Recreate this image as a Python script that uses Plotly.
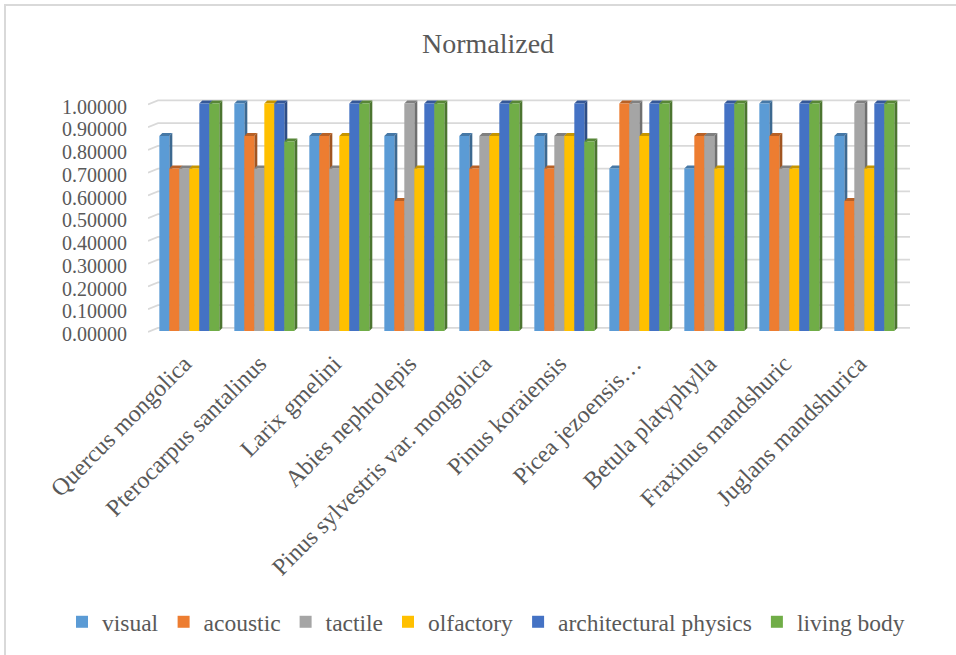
import plotly.graph_objects as go

# Species (category axis) and normalized scores per sensory dimension
species = [
    "Quercus mongolica", "Pterocarpus santalinus", "Larix gmelini",
    "Abies nephrolepis", "Pinus sylvestris var. mongolica", "Pinus koraiensis",
    "Picea jezoensis…", "Betula platyphylla", "Fraxinus mandshuric",
    "Juglans mandshurica",
]
visual = [0.85714, 1.00000, 0.85714, 0.85714, 0.85714, 0.85714, 0.71429, 0.71429, 1.00000, 0.85714]
acoustic = [0.71429, 0.85714, 0.85714, 0.57143, 0.71429, 0.71429, 1.00000, 0.85714, 0.85714, 0.57143]
tactile = [0.71429, 0.71429, 0.71429, 1.00000, 0.85714, 0.85714, 1.00000, 0.85714, 0.71429, 1.00000]
olfactory = [0.71429, 1.00000, 0.85714, 0.71429, 0.85714, 0.85714, 0.85714, 0.71429, 0.71429, 0.71429]
architectural_physics = [1.00000, 1.00000, 1.00000, 1.00000, 1.00000, 1.00000, 1.00000, 1.00000, 1.00000, 1.00000]
living_body = [1.00000, 0.83333, 1.00000, 1.00000, 1.00000, 0.83333, 1.00000, 1.00000, 1.00000, 1.00000]

series_names = ["visual", "acoustic", "tactile", "olfactory", "architectural physics", "living body"]
series_values = [visual, acoustic, tactile, olfactory, architectural_physics, living_body]
colors = ["#5B9BD5", "#ED7D31", "#A5A5A5", "#FFC000", "#4472C4", "#70AD47"]
y_ticks = [0.0, 0.1, 0.2, 0.3, 0.4, 0.5, 0.6, 0.7, 0.8, 0.9, 1.0]

FONT = "Liberation Serif, Times New Roman, serif"
TEXT = "#595959"
GRID = "#D9D9D9"

W, H = 956, 655
ML, MR, MT, MB = 148, 46, 94, 322
X_RANGE = [-0.551, 9.609]
Y_RANGE = [-0.0088, 1.0418]

bar_w = 0.1333          # width of one column (category units)
group_left = -0.4       # offset of the first column in a cluster
depth_x = 0.04          # pseudo-3D depth, horizontal
depth_y = 0.0132        # pseudo-3D depth, vertical


def shade(hex_color, f):
    r, g, b = (int(hex_color[i:i + 2], 16) for i in (1, 3, 5))
    return "#{:02X}{:02X}{:02X}".format(int(r * f), int(g * f), int(b * f))


idx = list(range(len(species)))
fig = go.Figure()
shapes = []

# back-wall gridlines with a short slanted segment on the side wall
wall_dx = 0.133
wall_dy = 0.0176
for v in y_ticks:
    shapes.append(dict(
        type="path", xref="x", yref="y", layer="below",
        path=f"M {X_RANGE[0]},{v - 0.004} L {X_RANGE[0] + wall_dx},{v + wall_dy - 0.004} "
             f"L {X_RANGE[1]},{v + wall_dy - 0.004}",
        line=dict(color=GRID, width=1.6),
    ))

for i, (name, vals, col) in enumerate(zip(series_names, series_values, colors)):
    off = group_left + i * bar_w
    fig.add_trace(go.Bar(
        x=idx, y=vals, name=name, width=bar_w, offset=off,
        marker=dict(color=col, line=dict(width=0)),
    ))
    side_col = shade(col, 0.68)
    top_col = shade(col, 0.78)
    for xc, v in zip(idx, vals):
        xl = xc + off
        xr = xl + bar_w
        shapes.append(dict(
            type="path", xref="x", yref="y", layer="between",
            path=f"M {xr},0 L {xr},{v} L {xr + depth_x},{v + depth_y} L {xr + depth_x},{depth_y} Z",
            fillcolor=side_col, line=dict(width=0),
        ))
        shapes.append(dict(
            type="path", xref="x", yref="y", layer="between",
            path=f"M {xl},{v} L {xr},{v} L {xr + depth_x},{v + depth_y} L {xl + depth_x},{v + depth_y} Z",
            fillcolor=top_col, line=dict(width=0),
        ))

# light chart frame
pw, ph = W - ML - MR, H - MT - MB
shapes.append(dict(
    type="rect", xref="paper", yref="paper", layer="above",
    x0=(5 - ML) / pw, x1=(970 - ML) / pw,
    y0=(H - MB - 670) / ph, y1=(H - MB - 5) / ph,
    line=dict(color=GRID, width=2), fillcolor="rgba(0,0,0,0)",
))

fig.update_layout(
    width=W, height=H,
    margin=dict(l=ML, r=MR, t=MT, b=MB, pad=0),
    paper_bgcolor="white", plot_bgcolor="white",
    barmode="overlay",
    font=dict(family=FONT, size=24, color=TEXT),
    title=dict(text="Normalized", x=488 / W, xref="container", xanchor="center",
               y=1 - 43 / H, yref="container", yanchor="middle",
               font=dict(family=FONT, size=28, color=TEXT)),
    showlegend=True,
    legend=dict(orientation="h", x=(62 - ML) / pw, xref="paper", xanchor="left",
                y=(H - MB - 622) / ph, yref="paper", yanchor="middle",
                font=dict(family=FONT, size=23.5, color=TEXT),
                bgcolor="rgba(0,0,0,0)", traceorder="normal"),
    shapes=shapes,
    xaxis=dict(range=X_RANGE, tickmode="array", tickvals=idx, ticktext=species,
               tickangle=-45, showgrid=False, zeroline=False, showline=False,
               ticks="", ticklabelstandoff=11, ticklabelshift=-5,
               tickfont=dict(family=FONT, size=24, color=TEXT)),
    yaxis=dict(range=Y_RANGE, tickmode="array", tickvals=y_ticks,
               ticktext=[f"{v:.5f}" for v in y_ticks],
               showgrid=False, zeroline=False, showline=False, ticks="",
               ticklabelstandoff=20, ticklabelshift=3,
               tickfont=dict(family=FONT, size=20, color=TEXT)),
)

fig.write_html("out.html")
